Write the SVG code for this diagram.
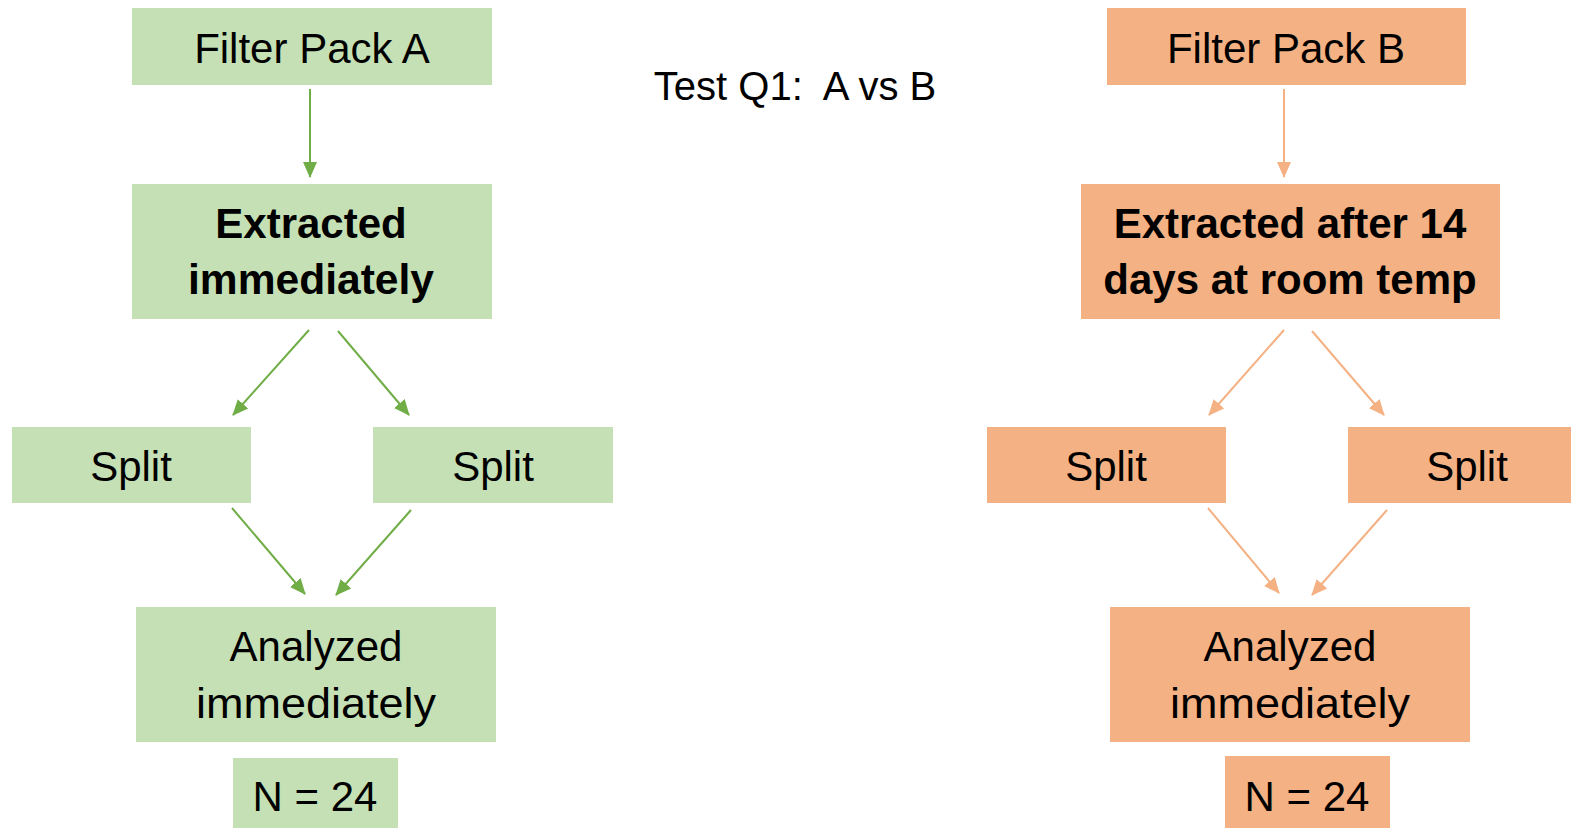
<svg xmlns="http://www.w3.org/2000/svg" width="1571" height="830" viewBox="0 0 1571 830">
<style>
.g{fill:#C5E0B4}
.o{fill:#F4B183}
.t{font-family:"Liberation Sans",Arial,sans-serif;font-size:42px;fill:#000;text-anchor:middle}
.b{font-weight:bold}
.cg{stroke:#70AD47;stroke-width:2;fill:none}
.co{stroke:#F4B183;stroke-width:2;fill:none}
</style>
<defs>
<marker id="ag" markerUnits="userSpaceOnUse" markerWidth="16" markerHeight="16" viewBox="0 0 16 16" refX="15" refY="8" orient="auto">
<path d="M0,1 L16,8 L0,15 Z" fill="#70AD47"/>
</marker>
<marker id="ao" markerUnits="userSpaceOnUse" markerWidth="16" markerHeight="16" viewBox="0 0 16 16" refX="15" refY="8" orient="auto">
<path d="M0,1 L16,8 L0,15 Z" fill="#F4B183"/>
</marker>
</defs>
<rect width="1571" height="830" fill="#fff"/>
<text id="title" class="t" x="795" y="100" style="font-size:40px" xml:space="preserve">Test Q1:  A vs B</text>
<g id="connectors">
<line class="cg" x1="310" y1="89" x2="310" y2="177" marker-end="url(#ag)"/>
<line class="cg" x1="309" y1="330" x2="233" y2="415" marker-end="url(#ag)"/>
<line class="cg" x1="338" y1="331" x2="409" y2="415" marker-end="url(#ag)"/>
<line class="cg" x1="232" y1="508" x2="305" y2="594" marker-end="url(#ag)"/>
<line class="cg" x1="411" y1="510" x2="336" y2="595" marker-end="url(#ag)"/>
<line class="co" x1="1284" y1="89" x2="1284" y2="177" marker-end="url(#ao)"/>
<line class="co" x1="1284" y1="330" x2="1209" y2="415" marker-end="url(#ao)"/>
<line class="co" x1="1312" y1="331" x2="1384" y2="415" marker-end="url(#ao)"/>
<line class="co" x1="1208" y1="508" x2="1279" y2="593" marker-end="url(#ao)"/>
<line class="co" x1="1387" y1="510" x2="1312" y2="595" marker-end="url(#ao)"/>
</g>
<g id="filterA"><rect class="g" x="132" y="8" width="360" height="77"/><text class="t" x="312" y="63">Filter Pack A</text></g>
<g id="extractedA"><rect class="g" x="132" y="184" width="360" height="135"/><text class="t b" x="311" y="238">Extracted</text><text class="t b" x="311" y="294" textLength="246" lengthAdjust="spacingAndGlyphs">immediately</text></g>
<g id="splitA1"><rect class="g" x="12" y="427" width="239" height="76"/><text class="t" x="131" y="481">Split</text></g>
<g id="splitA2"><rect class="g" x="373" y="427" width="240" height="76"/><text class="t" x="493" y="481">Split</text></g>
<g id="analyzedA"><rect class="g" x="136" y="607" width="360" height="135"/><text class="t" x="316" y="661">Analyzed</text><text class="t" x="316" y="718" textLength="240" lengthAdjust="spacingAndGlyphs">immediately</text></g>
<g id="nA"><rect class="g" x="233" y="758" width="165" height="70"/><text class="t" x="315" y="811">N = 24</text></g>
<g id="filterB"><rect class="o" x="1107" y="8" width="359" height="77"/><text class="t" x="1286" y="63">Filter Pack B</text></g>
<g id="extractedB"><rect class="o" x="1081" y="184" width="419" height="135"/><text class="t b" x="1290" y="238">Extracted after 14</text><text class="t b" x="1290" y="294">days at room temp</text></g>
<g id="splitB1"><rect class="o" x="987" y="427" width="239" height="76"/><text class="t" x="1106" y="481">Split</text></g>
<g id="splitB2"><rect class="o" x="1348" y="427" width="240" height="76"/><text class="t" x="1467" y="481">Split</text></g>
<g id="analyzedB"><rect class="o" x="1110" y="607" width="360" height="135"/><text class="t" x="1290" y="661">Analyzed</text><text class="t" x="1290" y="718" textLength="240" lengthAdjust="spacingAndGlyphs">immediately</text></g>
<g id="nB"><rect class="o" x="1225" y="756" width="165" height="72"/><text class="t" x="1307" y="811">N = 24</text></g>
</svg>
